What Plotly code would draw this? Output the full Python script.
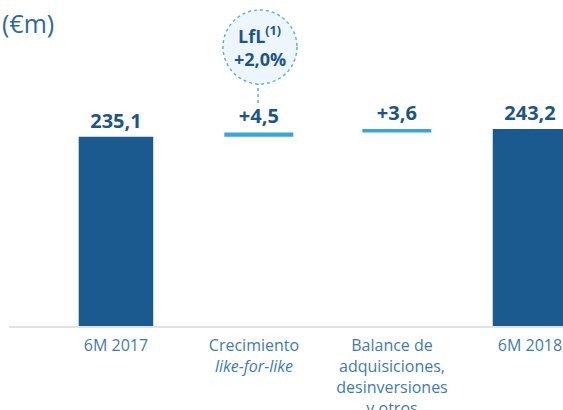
import plotly.graph_objects as go

# data
categories = ["6M 2017", "Crecimiento<br><i>like-for-like</i>",
              "Balance de<br>adquisiciones,<br>desinversiones<br>y otros", "6M 2018"]
values = [235.1, 4.5, 3.6, 243.2]
measures = ["absolute", "relative", "relative", "total"]
lfl_pct = 2.0

def fmt(v, signed):
    s = f"{v:+.1f}" if signed else f"{v:.1f}"
    return s.replace(".", ",")

labels = [fmt(v, m == "relative") for v, m in zip(values, measures)]

DARK = "#1a5a8e"
LIGHT = "#36a6dc"
TEXT = "#1d5588"
TICK = "#3f7bb0"
FONT = "Open Sans"

widths = [0.54 if m != "relative" else 0.5 for m in measures]
offsets = [-0.27 if m != "relative" else -0.215 for m in measures]

fig = go.Figure(go.Waterfall(
    x=categories, y=values, measure=measures,
    text=labels, textposition="outside",
    textfont=dict(family=FONT, size=20, color=TEXT, weight="bold"),
    width=widths, offset=offsets,
    increasing=dict(marker=dict(color=LIGHT)),
    decreasing=dict(marker=dict(color=LIGHT)),
    totals=dict(marker=dict(color=DARK)),
    connector=dict(visible=False),
    cliponaxis=False,
))

# LfL callout
ref_cat = categories[1]
def py(p):
    return (326 - p) / 326

fig.add_shape(type="line", xref="x", yref="paper", xsizemode="pixel", xanchor=ref_cat,
              x0=4, x1=4, y0=py(103), y1=py(84),
              line=dict(color="#5fb0e0", width=1.5, dash="dot"))
fig.add_shape(type="circle", xref="x", yref="paper", xsizemode="pixel", xanchor=ref_cat,
              x0=-31, x1=43, y0=py(84), y1=py(10),
              fillcolor="#eef6fd", line=dict(color="#5fb0e0", width=1.5, dash="dot"))
fig.add_annotation(x=ref_cat, xref="x", xshift=6, y=py(50), yref="paper", yanchor="bottom",
                   text="LfL<sup>(1)</sup>", showarrow=False,
                   font=dict(family=FONT, size=18, color=TEXT, weight="bold"))
fig.add_annotation(x=ref_cat, xref="x", xshift=6, y=py(45), yref="paper", yanchor="top",
                   text=fmt(lfl_pct, True) + "%", showarrow=False,
                   font=dict(family=FONT, size=18, color=TEXT, weight="bold"))

fig.add_annotation(x=0, xref="paper", xshift=-9, xanchor="left",
                   y=1, yref="paper", yanchor="top", yshift=-4,
                   text="(€m)", showarrow=False,
                   font=dict(family=FONT, size=25, color="#2b6aa0"))

fig.update_layout(
    width=563, height=410,
    margin=dict(l=9, r=0, t=0, b=84),
    paper_bgcolor="white", plot_bgcolor="white",
    showlegend=False,
    font=dict(family=FONT),
)
fig.update_xaxes(type="category", range=[-0.775, 3.239], showgrid=False,
                 showline=True, linecolor="#e2e2e2", linewidth=2, layer="below traces",
                 ticks="outside", ticklen=4, tickcolor="rgba(0,0,0,0)",
                 tickfont=dict(family=FONT, size=16, color=TICK), automargin=False)
fig.update_yaxes(range=[36, 379], visible=False, showgrid=False, zeroline=False)

fig.write_html("out.html", config={"displayModeBar": False},
               post_script="document.body.style.margin='0';")
